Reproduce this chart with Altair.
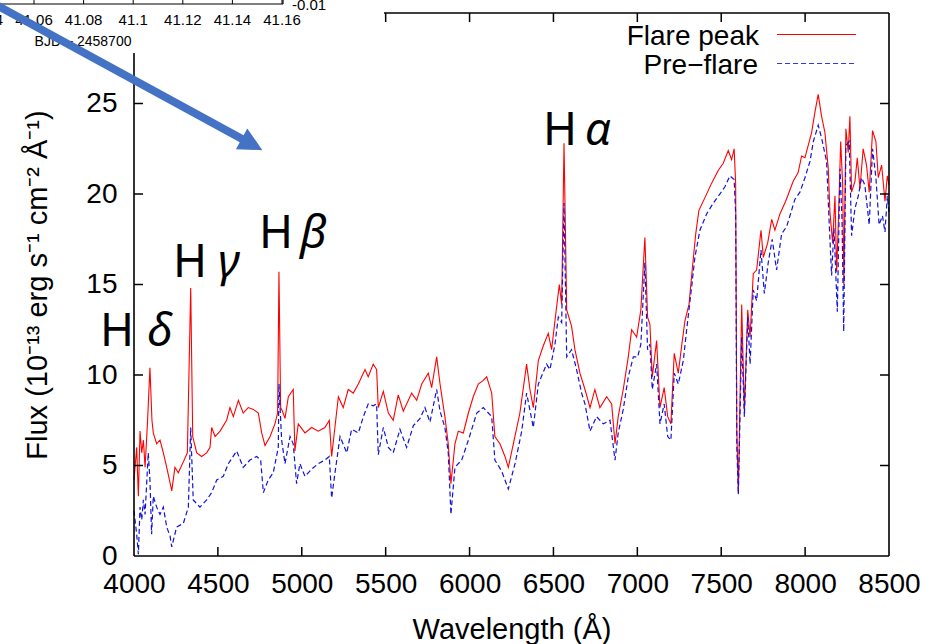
import altair as alt
import pandas as pd

# ---------------- data ----------------
wl_flare = [4000, 4016, 4026, 4036, 4046, 4056, 4066, 4080, 4095, 4107, 4115, 4135, 4155, 4175, 4195,
            4225, 4244, 4264, 4294, 4318, 4338, 4350, 4374, 4403, 4433, 4453, 4463, 4483, 4513, 4552,
            4572, 4592, 4622, 4651, 4681, 4711, 4741, 4761, 4781, 4811, 4840, 4856, 4864, 4874, 4885,
            4900, 4920, 4949, 4959, 4979, 5019, 5059, 5098, 5138, 5164, 5178, 5218, 5247, 5277, 5307,
            5337, 5377, 5396, 5426, 5446, 5456, 5486, 5516, 5545, 5575, 5605, 5655, 5685, 5715, 5754,
            5774, 5804, 5824, 5853, 5873, 5889, 5913, 5933, 5963, 5993, 6022, 6052, 6082, 6102, 6132,
            6151, 6181, 6211, 6231, 6261, 6300, 6340, 6360, 6380, 6410, 6439, 6469, 6489, 6509, 6535,
            6549, 6563, 6579, 6608, 6628, 6658, 6688, 6718, 6747, 6777, 6817, 6847, 6867, 6886, 6916,
            6946, 6966, 6996, 7021, 7045, 7061, 7075, 7089, 7115, 7135, 7160, 7181, 7200, 7220, 7244,
            7264, 7284, 7308, 7327, 7348, 7367, 7403, 7443, 7482, 7512, 7542, 7562, 7577, 7586, 7593,
            7602, 7622, 7638, 7658, 7672, 7691, 7711, 7737, 7751, 7777, 7801, 7820, 7850, 7884, 7929,
            7959, 7979, 7999, 8019, 8039, 8058, 8078, 8098, 8118, 8138, 8148, 8164, 8178, 8188, 8197,
            8212, 8224, 8231, 8243, 8257, 8267, 8277, 8297, 8311, 8327, 8346, 8366, 8382, 8402, 8422,
            8436, 8456, 8476, 8490, 8500]
flux_flare = [4.2, 6.0, 3.3, 6.9, 5.7, 6.4, 4.9, 7.3, 10.4, 7.5, 6.8, 6.2, 6.4, 5.7, 4.9,
              3.6, 4.9, 4.6, 5.2, 5.7, 14.8, 6.6, 5.7, 5.5, 5.7, 6.0, 7.1, 6.6, 6.9, 7.5,
              8.2, 7.7, 8.6, 7.9, 8.2, 8.1, 7.9, 6.8, 6.1, 6.6, 7.3, 7.9, 15.7, 8.2, 8.0,
              7.6, 8.8, 9.2, 5.8, 7.3, 6.8, 7.1, 6.9, 7.1, 7.5, 5.5, 8.8, 8.2, 9.2, 9.0,
              9.5, 10.3, 9.9, 10.6, 10.3, 8.2, 9.1, 7.9, 7.5, 8.9, 8.0, 9.0, 8.6, 9.5, 10.1,
              9.3, 11.0, 9.5, 7.7, 6.2, 4.0, 6.2, 6.9, 6.8, 7.9, 8.8, 9.5, 9.7, 9.9, 9.0,
              6.6, 6.2, 5.5, 4.9, 6.2, 7.9, 10.6, 9.2, 8.2, 10.8, 11.6, 12.3, 11.4, 13.0, 15.0,
              13.9, 22.8, 13.6, 12.7, 11.4, 10.1, 9.2, 8.2, 9.2, 8.2, 8.8, 8.4, 6.2, 7.7, 9.2,
              11.0, 12.5, 12.1, 13.6, 17.6, 13.2, 12.8, 9.9, 11.9, 8.2, 9.3, 7.7, 7.3, 11.2, 10.1,
              11.6, 13.0, 13.9, 15.8, 17.8, 19.1, 19.8, 20.6, 21.3, 21.7, 22.4, 21.9, 22.5, 20.6, 6.9,
              3.5, 13.9, 8.0, 13.6, 12.1, 15.6, 15.8, 18.0, 16.5, 17.3, 18.6, 18.0, 18.9, 19.6, 20.7,
              21.2, 22.1, 22.0, 22.7, 23.4, 24.5, 25.5, 24.3, 23.4, 21.4, 19.0, 17.3, 19.9, 15.7, 18.1,
              22.9, 20.5, 15.0, 23.6, 22.3, 24.3, 20.1, 20.7, 22.0, 20.3, 22.5, 21.6, 20.1, 23.5, 22.9,
              20.9, 21.6, 19.6, 21.0, 20.5]

wl_pre = [4000, 4016, 4026, 4036, 4046, 4056, 4066, 4085, 4095, 4105, 4115, 4135, 4155, 4175, 4195,
          4215, 4225, 4254, 4294, 4324, 4338, 4353, 4393, 4433, 4463, 4493, 4532, 4562, 4612, 4651,
          4691, 4731, 4755, 4771, 4800, 4830, 4860, 4864, 4880, 4900, 4930, 4949, 4969, 4989, 5019,
          5059, 5098, 5138, 5164, 5178, 5198, 5228, 5268, 5297, 5337, 5367, 5396, 5426, 5446, 5456,
          5486, 5516, 5545, 5585, 5625, 5665, 5705, 5734, 5764, 5804, 5824, 5853, 5873, 5889, 5913,
          5953, 5993, 6043, 6082, 6132, 6151, 6191, 6231, 6271, 6311, 6340, 6380, 6410, 6459, 6479,
          6509, 6529, 6549, 6563, 6579, 6608, 6638, 6668, 6688, 6718, 6757, 6797, 6837, 6867, 6886,
          6916, 6946, 6976, 7002, 7021, 7045, 7061, 7075, 7089, 7115, 7135, 7160, 7181, 7200, 7220,
          7244, 7274, 7294, 7324, 7343, 7373, 7413, 7453, 7492, 7522, 7552, 7577, 7586, 7593, 7602,
          7622, 7638, 7658, 7672, 7691, 7711, 7737, 7757, 7780, 7804, 7830, 7860, 7890, 7939, 7969,
          7999, 8029, 8049, 8078, 8098, 8128, 8144, 8158, 8172, 8192, 8208, 8220, 8230, 8243, 8263,
          8277, 8297, 8317, 8337, 8356, 8382, 8402, 8422, 8441, 8461, 8476, 8490, 8500]
flux_pre = [2.5, 1.2, 0.1, 2.7, 2.0, 3.1, 2.3, 5.7, 4.2, 1.2, 3.3, 2.7, 2.3, 2.7, 1.6,
            1.1, 0.5, 1.6, 1.8, 2.7, 7.1, 3.1, 2.7, 3.1, 3.5, 4.2, 4.4, 5.1, 5.8, 4.9,
            5.3, 5.5, 5.3, 3.5, 4.2, 4.6, 6.0, 9.5, 6.4, 5.1, 6.6, 6.2, 4.0, 5.1, 4.4,
            4.8, 5.1, 5.3, 5.5, 3.2, 4.6, 6.6, 5.7, 7.0, 6.8, 7.7, 8.4, 8.3, 8.4, 5.6,
            7.1, 6.0, 5.7, 7.0, 6.0, 7.2, 7.6, 8.2, 7.4, 9.2, 8.0, 7.1, 5.7, 2.3, 4.9,
            5.3, 6.4, 7.9, 8.2, 7.7, 5.3, 4.7, 3.7, 5.1, 6.9, 9.0, 7.1, 9.5, 10.6, 10.3,
            11.7, 13.2, 12.9, 19.5, 11.0, 11.4, 10.3, 9.0, 8.4, 6.9, 7.7, 7.3, 7.5, 5.3, 6.8,
            8.1, 9.9, 11.0, 11.0, 11.7, 16.2, 11.4, 11.7, 9.2, 10.6, 7.3, 8.4, 6.6, 6.4, 10.1,
            9.5, 10.8, 12.5, 14.9, 16.5, 18.0, 18.9, 19.5, 20.0, 20.4, 21.0, 20.8, 18.9, 6.0, 3.4,
            12.1, 7.7, 13.2, 10.6, 14.7, 14.1, 16.9, 14.5, 16.2, 17.5, 15.8, 17.8, 18.2, 19.7, 20.1,
            20.9, 21.8, 22.9, 23.8, 23.1, 21.8, 18.3, 15.5, 18.1, 13.5, 21.4, 18.6, 12.4, 22.7, 22.9,
            17.7, 19.2, 19.9, 20.9, 20.5, 18.3, 22.5, 20.9, 18.3, 18.8, 17.9, 19.9, 19.0]

x_ticks = [4000, 4500, 5000, 5500, 6000, 6500, 7000, 7500, 8000, 8500]
y_ticks = [0, 5, 10, 15, 20, 25]
bottom_ticks = [4500, 5000, 5500, 6000, 6500, 7000, 7500, 8000]
top_ticks = [5500, 6000, 6500, 7000, 7500, 8000]
side_ticks = [5, 10, 15, 20, 25]

legend_labels = ["Flare peak", "Pre\u2212flare"]

line_letters = ["H", "H", "H", "H"]
line_greek = ["\u03b4", "\u03b3", "\u03b2", "\u03b1"]
line_h_wl = [3797, 4232, 4745, 6438]
line_greek_wl = [4077, 4501, 4989, 6688]
line_flux = [11.6, 15.4, 17.0, 22.7]

inset_ticks = [41.04, 41.06, 41.08, 41.10, 41.12, 41.14, 41.16]
inset_tick_labels = ["41.04", "41.06", "41.08", "41.1", "41.12", "41.14", "41.16"]

# ---------------- frames ----------------
flare = pd.DataFrame({"wl": wl_flare, "flux": flux_flare})
pre = pd.DataFrame({"wl": wl_pre, "flux": flux_pre})
ann = pd.DataFrame({"h": line_letters, "g": line_greek, "hx": line_h_wl,
                    "gx": line_greek_wl, "y": line_flux})
inset = pd.DataFrame({"t": inset_ticks, "lab": inset_tick_labels})

W, H = 755, 543
FONT = "Liberation Sans"
xs = alt.Scale(domain=[4000, 8500], nice=False, zero=False)
ys = alt.Scale(domain=[0, 30], nice=False, zero=False)

x_axis = alt.Axis(values=x_ticks, format="d", ticks=False, domain=False, grid=False,
                  labelPadding=14, labelFlush=False, labelOverlap=False,
                  title="Wavelength (\u00c5)", titlePadding=17)
y_axis = alt.Axis(values=y_ticks, format="d", ticks=False, domain=False, grid=False,
                  labelPadding=17, labelFlush=False, labelOverlap=False,
                  title="Flux (10\u207b\u00b9\u00b3 erg s\u207b\u00b9 cm\u207b\u00b2 \u00c5\u207b\u00b9)",
                  titlePadding=33)

red = alt.Chart(flare).mark_line(color="#ff0000", strokeWidth=1.1).encode(
    x=alt.X("wl:Q", scale=xs, axis=x_axis),
    y=alt.Y("flux:Q", scale=ys, axis=y_axis),
)
blue = alt.Chart(pre).mark_line(color="#1212d8", strokeWidth=1.2, strokeDash=[5, 3]).encode(
    x=alt.X("wl:Q", scale=xs),
    y=alt.Y("flux:Q", scale=ys),
)

tick_style = dict(color="black", strokeWidth=1.5)
bt = alt.Chart(pd.DataFrame({"wl": bottom_ticks})).mark_rule(**tick_style).encode(
    x=alt.X("wl:Q", scale=xs), y=alt.value(H), y2=alt.value(H - 9))
tt = alt.Chart(pd.DataFrame({"wl": top_ticks})).mark_rule(**tick_style).encode(
    x=alt.X("wl:Q", scale=xs), y=alt.value(0), y2=alt.value(9))
lt = alt.Chart(pd.DataFrame({"f": side_ticks})).mark_rule(**tick_style).encode(
    y=alt.Y("f:Q", scale=ys), x=alt.value(0), x2=alt.value(9))
rt = alt.Chart(pd.DataFrame({"f": side_ticks})).mark_rule(**tick_style).encode(
    y=alt.Y("f:Q", scale=ys), x=alt.value(W), x2=alt.value(W - 9))

frame_style = dict(color="black", strokeWidth=1.6)
fr_bottom = alt.Chart().mark_rule(**frame_style).encode(x=alt.value(0), x2=alt.value(W), y=alt.value(H))
fr_right = alt.Chart().mark_rule(**frame_style).encode(x=alt.value(W), y=alt.value(0), y2=alt.value(H))
fr_top = alt.Chart().mark_rule(**frame_style).encode(x=alt.value(250), x2=alt.value(W), y=alt.value(0))
fr_left = alt.Chart().mark_rule(**frame_style).encode(x=alt.value(0), y=alt.value(40), y2=alt.value(H))

# legend (drawn by hand, gnuplot style)
leg_red = alt.Chart().mark_rule(color="#ff0000", strokeWidth=1.2).encode(
    x=alt.value(643), x2=alt.value(722), y=alt.value(21.5))
leg_blue = alt.Chart().mark_rule(color="#3535e8", strokeWidth=1.2, strokeDash=[5, 3]).encode(
    x=alt.value(643), x2=alt.value(722), y=alt.value(50.5))
leg_t1 = alt.Chart().mark_text(text=legend_labels[0], align="right", baseline="alphabetic",
                               font=FONT, fontSize=28, color="black").encode(
    x=alt.value(625), y=alt.value(32))
leg_t2 = alt.Chart().mark_text(text=legend_labels[1], align="right", baseline="alphabetic",
                               font=FONT, fontSize=28, color="black").encode(
    x=alt.value(624), y=alt.value(60.5))

# line annotations
ann_h = alt.Chart(ann).mark_text(align="left", baseline="alphabetic", font="Noto Sans",
                                 fontSize=46, color="black").encode(
    x=alt.X("hx:Q", scale=xs), y=alt.Y("y:Q", scale=ys), text="h:N")
ann_g = alt.Chart(ann).mark_text(align="left", baseline="alphabetic", font="Noto Sans",
                                 fontSize=46, fontStyle="italic", color="black").encode(
    x=alt.X("gx:Q", scale=xs), y=alt.Y("y:Q", scale=ys), text="g:N")

main = alt.layer(red, blue, bt, tt, lt, rt, fr_bottom, fr_right, fr_top, fr_left,
                 leg_red, leg_blue, leg_t1, leg_t2, ann_h, ann_g)

# fragment of the neighbouring light-curve panel (top-left corner)
isc = alt.Scale(domain=[41.04, 41.16], range=[-149.6, 148], nice=False, zero=False)
in_axis = alt.Chart().mark_rule(color="black", strokeWidth=1.2).encode(
    x=alt.value(-134), x2=alt.value(149), y=alt.value(-9))
in_corner = alt.Chart().mark_rule(color="black", strokeWidth=1.2).encode(
    x=alt.value(149), y=alt.value(-13), y2=alt.value(-9))
in_ticks = alt.Chart(inset).mark_rule(color="black", strokeWidth=1).encode(
    x=alt.X("t:Q", scale=isc, axis=None), y=alt.value(-13), y2=alt.value(-9))
in_labels = alt.Chart(inset).mark_text(font=FONT, fontSize=15, color="black", baseline="middle").encode(
    x=alt.X("t:Q", scale=isc, axis=None), y=alt.value(7), text="lab:N")
in_ylab = alt.Chart().mark_text(text="-0.01", font=FONT, fontSize=15, color="black",
                                align="left", baseline="middle").encode(x=alt.value(158), y=alt.value(-8))
in_xtitle = alt.Chart().mark_text(text="BJD \u2212 2458700", font=FONT, fontSize=14, color="black",
                                  baseline="middle").encode(x=alt.value(-51), y=alt.value(29))

# blue arrow overlay
arrow_col = "#4472C4"
shaft = alt.Chart().mark_rule(color=arrow_col, strokeWidth=8, strokeCap="butt").encode(
    x=alt.value(-144), y=alt.value(-11.5), x2=alt.value(110), y2=alt.value(127))
head = alt.Chart().mark_point(shape="M1,0L-1,-1L-1,1Z", filled=True, size=560, angle=28.6,
                              color=arrow_col, opacity=1, strokeWidth=0).encode(
    x=alt.value(118), y=alt.value(131.5))

overlay = alt.layer(in_axis, in_corner, in_ticks, in_labels, in_ylab, in_xtitle, shaft, head)

chart = alt.layer(main, overlay).resolve_scale(x="independent").properties(
    width=W, height=H,
    autosize=alt.AutoSizeParams(type="none"),
    padding={"left": 134, "top": 13, "right": 41, "bottom": 88},
    background="white",
).configure_view(stroke="transparent").configure_axis(
    labelFont=FONT, labelFontSize=28, labelColor="black",
    titleFont=FONT, titleFontSize=29, titleFontWeight="normal", titleColor="black",
)

chart.save("out.html", embed_options={"renderer": "svg", "actions": False})
